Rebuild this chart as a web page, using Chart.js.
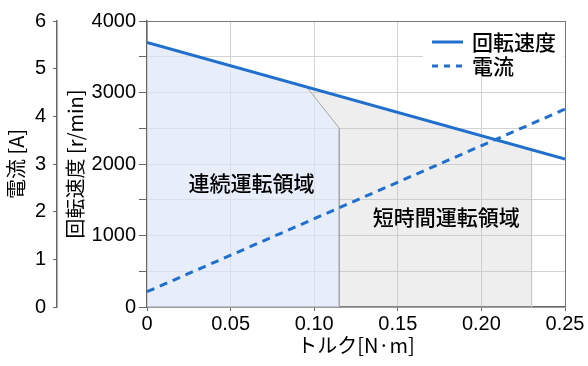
<!DOCTYPE html>
<html>
<head>
<meta charset="utf-8">
<script src="https://cdn.jsdelivr.net/npm/chart.js@4.4.0/dist/chart.umd.min.js"></script>
<style>
  html, body { margin: 0; padding: 0; background: #fff; }
  #wrap { width: 588px; height: 366px; }
</style>
</head>
<body>
<div id="wrap"><canvas id="graphCanvas"></canvas></div>
<script>
// torque [N·m] vs speed / current
const torque = [0, 0.25];
const speed = [3700, 2070];
const current = [0.32, 4.15];

// continuous operation region outline
const contTorque = [0, 0.0955, 0.115, 0.115];
const contSpeed = [3700, 3077, 2500, 0];

// short time operation region outline
const shortTorque = [0, 0.23, 0.23];
const shortSpeed = [3700, 2200, 0];

const seriesNames = ['回転速度', '電流'];
const regionNames = ['連続運転領域', '短時間運転領域'];
const regionTorque = [0.0625, 0.179];
const regionSpeed = [1730, 1260];

const xTicks = ['0', '0.05', '0.10', '0.15', '0.20', '0.25'];

const BLUE = '#1f6fcf';
const JP = '"Noto Sans CJK JP", sans-serif';

function pts(xs, ys) {
    return xs.map((v, i) => ({x: v, y: ys[i]}));
}

const overlay = {
    id: 'overlay',
    afterDraw(chart) {
        const {ctx, chartArea, scales} = chart;
        const x = scales.x, y = scales.y;
        ctx.save();
        // legend
        ctx.fillStyle = '#fff';
        ctx.fillRect(chartArea.right - 142, chartArea.top + 1, 141, 49);
        ctx.lineWidth = 3;
        ctx.strokeStyle = BLUE;
        ctx.beginPath();
        ctx.moveTo(chartArea.right - 133, chartArea.top + 21);
        ctx.lineTo(chartArea.right - 102, chartArea.top + 21);
        ctx.stroke();
        ctx.setLineDash([6, 6]);
        ctx.beginPath();
        ctx.moveTo(chartArea.right - 133, chartArea.top + 45);
        ctx.lineTo(chartArea.right - 102, chartArea.top + 45);
        ctx.stroke();
        ctx.setLineDash([]);
        ctx.fillStyle = '#000';
        ctx.font = '500 21px ' + JP;
        ctx.textBaseline = 'middle';
        ctx.textAlign = 'left';
        ctx.fillText(seriesNames[0], chartArea.right - 93, chartArea.top + 21);
        ctx.fillText(seriesNames[1], chartArea.right - 93, chartArea.top + 45);
        // region labels
        ctx.textAlign = 'center';
        ctx.font = '500 21px ' + JP;
        for (let i = 0; i < regionNames.length; i++) {
            ctx.fillText(regionNames[i], x.getPixelForValue(regionTorque[i]), y.getPixelForValue(regionSpeed[i]));
        }
        ctx.restore();
    }
};

function showGraph() {
    const chartdata = {
        datasets: [
            {
                label: seriesNames[0],
                data: pts(torque, speed),
                yAxisID: 'y',
                borderColor: BLUE,
                borderWidth: 3,
                pointRadius: 0,
                fill: false,
                order: 0
            },
            {
                label: seriesNames[1],
                data: pts(torque, current),
                yAxisID: 'y1',
                borderColor: BLUE,
                borderWidth: 3,
                borderDash: [8, 6],
                pointRadius: 0,
                fill: false,
                order: 1
            },
            {
                label: regionNames[0],
                data: pts(contTorque, contSpeed),
                yAxisID: 'y',
                borderColor: '#a8a8a8',
                borderWidth: 1,
                backgroundColor: 'rgba(225,235,255,0.6)',
                pointRadius: 0,
                fill: 'origin',
                order: 2
            },
            {
                label: regionNames[1],
                data: pts(shortTorque, shortSpeed),
                yAxisID: 'y',
                borderColor: '#c8c8c8',
                borderWidth: 1,
                backgroundColor: 'rgba(200,200,200,0.3)',
                pointRadius: 0,
                fill: 'origin',
                order: 3
            }
        ]
    };

    new Chart(document.getElementById('graphCanvas'), {
        type: 'line',
        data: chartdata,
        plugins: [overlay],
        options: {
            responsive: true,
            maintainAspectRatio: false,
            animation: false,
            layout: { padding: { left: 0, top: 21, right: 23, bottom: 0 } },
            plugins: { legend: { display: false }, tooltip: { enabled: false } },
            scales: {
                x: {
                    type: 'linear',
                    min: 0, max: 0.25,
                    afterFit: (s) => { s.height = 59; },
                    ticks: {
                        stepSize: 0.05,
                        color: '#000',
                        padding: 1,
                        font: { family: '"Liberation Sans", Arial, sans-serif', size: 20 },
                        callback: (v, i) => xTicks[i]
                    },
                    grid: {
                        color: (c) => c.index === 5 ? '#777' : '#d2d2d2',
                        tickColor: '#666',
                        tickLength: 4
                    },
                    border: { color: '#666', width: 1.5 },
                    title: {
                        display: true,
                        text: 'トルク[N·m]',
                        color: '#000',
                        font: { family: JP, size: 20 },
                        padding: { top: 0, bottom: 9 }
                    }
                },
                y: {
                    position: 'left',
                    weight: 0,
                    min: 0, max: 4000,
                    afterFit: (s) => { s.width = 90; },
                    ticks: {
                        stepSize: 500,
                        color: '#000',
                        padding: 3,
                        font: { family: '"Liberation Sans", Arial, sans-serif', size: 20 },
                        callback: (v) => v % 1000 === 0 ? String(v) : ''
                    },
                    grid: {
                        color: (c) => c.tick && c.tick.value === 4000 ? '#777' : '#d2d2d2',
                        tickColor: '#666',
                        tickLength: 8
                    },
                    border: { color: '#666', width: 1.5 },
                    title: {
                        display: true,
                        text: '回転速度 [r/min]',
                        color: '#000',
                        font: { family: JP, size: 20 },
                        padding: { top: 6, bottom: 0 }
                    }
                },
                y1: {
                    position: 'left',
                    weight: 1,
                    min: 0, max: 6,
                    afterFit: (s) => { s.width = 57; },
                    ticks: {
                        stepSize: 1,
                        color: '#000',
                        padding: 7,
                        font: { family: '"Liberation Sans", Arial, sans-serif', size: 20 }
                    },
                    grid: {
                        drawOnChartArea: false,
                        tickColor: '#666',
                        tickLength: 4
                    },
                    border: { color: '#666', width: 1.5 },
                    title: {
                        display: true,
                        text: '電流 [A]',
                        color: '#000',
                        font: { family: JP, size: 20 },
                        padding: { top: 4, bottom: 0 }
                    }
                }
            }
        }
    });
}

showGraph();
</script>
</body>
</html>
